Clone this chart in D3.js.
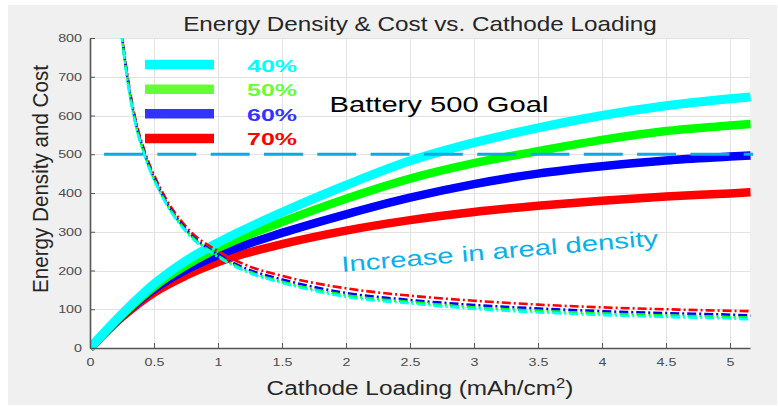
<!DOCTYPE html>
<html><head><meta charset="utf-8">
<script src="https://cdn.jsdelivr.net/npm/d3@7"></script>
<style>
html,body{margin:0;padding:0;background:#fff;}
svg{display:block;font-family:"Liberation Sans",Arial,Helvetica,sans-serif;}
</style></head><body>
<svg id="chart" width="778" height="406"></svg>
<script>
// Cathode loading (mAh/cm2) sample points for the energy-density curves
const loading = [0, 0.25, 0.5, 0.75, 1, 1.5, 2, 2.5, 3, 3.5, 4, 4.5, 5, 5.16];
// Energy density (Wh/kg) for each active-material fraction
const energy40 = [0, 88, 165, 225, 272, 350, 420, 483, 530, 568, 600, 625, 643, 648];
const energy50 = [0, 85, 158, 213, 258, 325, 385, 437, 477, 508, 537, 560, 574, 578];
const energy60 = [0, 83, 152, 202, 240, 297, 345, 388, 423, 450, 469, 484, 494, 497];
const energy70 = [0, 80, 143, 187, 222, 268, 303, 330, 351, 367, 380, 391, 399, 402];

// Loading sample points for the cost curves
const costLoading = [0.22, 0.25, 0.3, 0.35, 0.43, 0.55, 0.75, 1, 1.25, 1.5, 2, 2.5, 3, 3.5, 4, 4.5, 5, 5.16];
// Cost ($/kWh) for each active-material fraction
const cost40 = [900, 800, 675, 585, 493, 400, 300, 235, 193, 168, 132, 115, 101, 92, 85, 80, 76, 74];
const cost50 = [905, 802, 678, 588, 496, 402, 303, 238, 196, 171, 136, 119, 105, 96, 89, 84, 80, 78];
const cost60 = [910, 805, 682, 592, 499, 405, 306, 241, 201, 177, 142, 124, 111, 102, 95, 90, 86, 84];
const cost70 = [915, 810, 688, 598, 505, 412, 313, 250, 210, 186, 154, 135, 122, 112, 105, 100, 96, 95];

const seriesNames = ["40%", "50%", "60%", "70%"];
const lineColors = ["#00ffff", "#00ff00", "#0000ff", "#ff0000"];
const legendColors = ["#00ffff", "#66ff33", "#3333ff", "#ff0000"];

const xTicks = [0, 0.5, 1, 1.5, 2, 2.5, 3, 3.5, 4, 4.5, 5];
const yTicks = [0, 100, 200, 300, 400, 500, 600, 700, 800];
const xTickLabels = ["0", "0.5", "1", "1.5", "2", "2.5", "3", "3.5", "4", "4.5", "5"];
const yTickLabels = ["0", "100", "200", "300", "400", "500", "600", "700", "800"];

const goalValue = 500;
const goalSpan = [0.11, 5.18];

const energySeries = [energy40, energy50, energy60, energy70];
const costSeries = [cost40, cost50, cost60, cost70];

// ---- layout ----
const svg = d3.select("#chart");
const plot = {left: 90, right: 750, top: 38, bottom: 348};
const x = d3.scaleLinear().domain([0, 5.156]).range([plot.left, plot.right]);
const y = d3.scaleLinear().domain([0, 800]).range([plot.bottom, plot.top]);

// stretch a text element horizontally (in its own frame) to a given length
function fitWidth(sel, width) {
  const w = sel.node().getComputedTextLength();
  sel.attr("transform", `scale(${width / w},1)`);
  return sel;
}
function label(parent, opts) {
  const g = parent.append("g")
    .attr("transform", `translate(${opts.x},${opts.y}) rotate(${opts.rotate || 0})`);
  const t = g.append("text")
    .attr("text-anchor", opts.anchor || "start")
    .attr("font-size", opts.size)
    .attr("font-weight", opts.weight || "normal")
    .attr("fill", opts.color || "#262626")
    .text(opts.text);
  if (opts.sup) {
    t.append("tspan").attr("baseline-shift", "super").attr("font-size", opts.size * 0.68).text(opts.sup);
    t.append("tspan").text(opts.after);
  }
  if (opts.width) fitWidth(t, opts.width);
  return t;
}

// figure background and axes area
svg.append("rect").attr("x", 8).attr("y", 5).attr("width", 769).attr("height", 400).attr("fill", "#f0f0f0");
svg.append("rect").attr("x", plot.left).attr("y", plot.top)
  .attr("width", plot.right - plot.left).attr("height", plot.bottom - plot.top).attr("fill", "#ffffff");

svg.append("defs").append("clipPath").attr("id", "plotClip")
  .append("rect").attr("x", plot.left).attr("y", plot.top)
  .attr("width", plot.right - plot.left + 4).attr("height", plot.bottom - plot.top + 6);

// grid
const grid = svg.append("g").attr("stroke", "#e2e2e2").attr("stroke-width", 1);
grid.selectAll("line.gx").data(xTicks.slice(1)).join("line")
  .attr("x1", d => Math.round(x(d)) + 0.5).attr("x2", d => Math.round(x(d)) + 0.5)
  .attr("y1", plot.top).attr("y2", plot.bottom);
grid.selectAll("line.gy").data(yTicks.slice(1)).join("line")
  .attr("y1", d => Math.round(y(d)) + 0.5).attr("y2", d => Math.round(y(d)) + 0.5)
  .attr("x1", plot.left).attr("x2", plot.right);

// curves
const lineGen = xs => d3.line().x((d, i) => x(xs[i])).y(d => y(d)).curve(d3.curveMonotoneX);
const order = [3, 2, 1, 0];
const curves = svg.append("g").attr("clip-path", "url(#plotClip)");
order.forEach(k => {
  curves.append("path").datum(energySeries[k])
    .attr("d", lineGen(loading)).attr("fill", "none")
    .attr("stroke", lineColors[k]).attr("stroke-width", k === 0 ? 9 : 8.5);
});
order.forEach(k => {
  curves.append("path").datum(costSeries[k])
    .attr("d", lineGen(costLoading)).attr("fill", "none")
    .attr("stroke", lineColors[k]).attr("stroke-width", 2.6)
    .attr("stroke-dasharray", "9,3,2,3");
});

// axes
const tickScale = 1.3;
const xAxis = d3.axisBottom(x).tickValues(xTicks).tickFormat((d, i) => xTickLabels[i])
  .tickSizeInner(-5).tickSizeOuter(0).tickPadding(10);
const yAxis = d3.axisLeft(y).tickValues(yTicks).tickFormat((d, i) => yTickLabels[i])
  .tickSizeInner(-5).tickSizeOuter(0).tickPadding(8);

const gx = svg.append("g").attr("transform", `translate(0,${plot.bottom})`).call(xAxis);
const gy = svg.append("g").attr("transform", `translate(${plot.left},0)`).call(yAxis);
[gx, gy].forEach(g => {
  g.select(".domain").attr("stroke", "#555").attr("stroke-width", 1.6);
  g.selectAll(".tick line").attr("stroke", "#555").attr("stroke-width", 1);
  g.selectAll(".tick text").attr("font-size", 11).attr("fill", "#4d4d4d")
    .attr("font-family", "'Liberation Sans',Arial,sans-serif");
});
gx.selectAll(".tick text").attr("transform", `scale(${tickScale},1)`)
  .attr("x", 0);
gy.selectAll(".tick text").attr("transform", `translate(-8,0) scale(${tickScale},1) translate(8,0)`);

// battery goal line
svg.append("line")
  .attr("x1", x(goalSpan[0])).attr("x2", x(goalSpan[1]))
  .attr("y1", y(goalValue)).attr("y2", y(goalValue))
  .attr("stroke", "#0aaae6").attr("stroke-width", 3)
  .attr("stroke-dasharray", "39,14.3");

// legend
const legend = svg.append("g");
seriesNames.forEach((name, i) => {
  const cy = 64.6 + i * 24.6;
  legend.append("line").attr("x1", 145).attr("x2", 214).attr("y1", cy).attr("y2", cy)
    .attr("stroke", legendColors[i]).attr("stroke-width", 9.5);
  label(legend, {x: 247, y: cy + 7, text: name, size: 17, weight: "bold", color: legendColors[i], width: 50});
});

// annotations and titles
label(svg, {x: 329.5, y: 111.5, text: "Battery 500 Goal", size: 22, color: "#000", width: 219});
label(svg, {x: 342, y: 272, rotate: -4.8, text: "Increase in areal density", size: 22, color: "#0cb0e8", width: 318});
label(svg, {x: 420, y: 30.7, text: "Energy Density & Cost vs. Cathode Loading", size: 19.5, anchor: "middle", width: 474});
label(svg, {x: 47.5, y: 179, rotate: -90, text: "Energy Density and Cost", size: 23, anchor: "middle", width: 228});
label(svg, {x: 420, y: 395, text: "Cathode Loading (mAh/cm", sup: "2", after: ")", size: 21, anchor: "middle", width: 307});
</script>
</body></html>
